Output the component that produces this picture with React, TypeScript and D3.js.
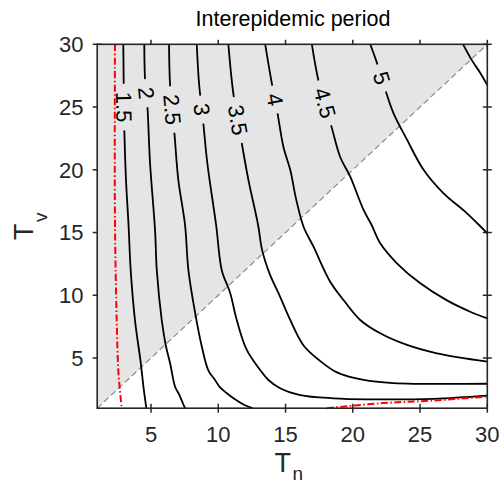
import React from "react";
import * as d3 from "d3";

type Pt = [number, number];

// Axis domains and ticks (T_n horizontal, T_v vertical)
const tnDomain: [number, number] = [1, 30];
const tvDomain: [number, number] = [1, 30];
const xTicks = [5, 10, 15, 20, 25, 30];
const yTicks = [5, 10, 15, 20, 25, 30];

// Contour lines of the interepidemic period, as (T_n, T_v) vertices from top to bottom
const level15: Pt[] = [[2.94, 30], [2.97, 26.9], [3.02, 23.0], [3.14, 19.2], [3.33, 15.6], [3.49, 12.0], [3.81, 8.0], [4.24, 4.6], [4.45, 2.6], [4.55, 1.8], [4.65, 1.0]];
const level20: Pt[] = [[4.5, 30], [4.56, 27.1], [4.73, 25.1], [4.93, 20.5], [5.3, 15.2], [5.43, 12.0], [5.8, 8.0], [6.1, 6.0], [6.42, 4.58], [6.79, 2.71], [7.11, 2.05], [7.48, 1.12], [7.55, 1.0]];
const level25: Pt[] = [[6.34, 30], [6.42, 26.7], [6.74, 22.9], [7.03, 19.2], [7.53, 15.6], [7.78, 12.0], [8.28, 8.6], [8.78, 5.9], [9.27, 4.0], [9.76, 3.25], [10.1, 2.7], [10.64, 2.19], [11.13, 1.79], [11.87, 1.3], [12.55, 1.0]];
const level30: Pt[] = [[8.4, 30], [8.57, 26.9], [8.89, 23.7], [9.19, 20.5], [9.84, 15.6], [10.26, 12.0], [10.88, 10.2], [11.38, 8.0], [12.12, 5.64], [13.11, 4.05], [13.73, 3.25], [14.6, 2.59], [16.09, 2.05], [18.57, 1.79], [21.05, 1.71], [26.0, 1.75], [30, 2.0]];
const level35: Pt[] = [[10.75, 30], [11.13, 26.0], [11.75, 22.1], [12.24, 19.2], [12.96, 15.6], [13.26, 13.6], [13.86, 11.6], [14.6, 9.88], [15.35, 8.03], [16.34, 6.0], [17.59, 4.75], [18.82, 3.85], [20.8, 3.25], [23.0, 3.0], [30, 2.95]];
const level40: Pt[] = [[13.49, 30], [13.98, 26.9], [14.36, 24.8], [14.85, 21.8], [15.35, 20.0], [15.8, 17.6], [16.34, 15.46], [17.08, 13.87], [18.32, 11.08], [19.31, 9.62], [20.55, 8.03], [22.04, 6.97], [24.03, 6.04], [26.26, 5.37], [30, 4.71]];
const level45: Pt[] = [[16.96, 30], [17.45, 27.1], [18.45, 23.3], [19.07, 21.0], [19.81, 19.45], [20.8, 16.8], [21.4, 15.6], [22.04, 14.14], [23.28, 12.55], [25.02, 10.95], [27.0, 9.59], [28.73, 8.69], [30, 8.16]];
const level50: Pt[] = [[21.3, 30], [21.8, 28.5], [22.41, 26.4], [23.03, 24.5], [24.03, 22.4], [25.26, 20.0], [26.75, 18.12], [28.49, 16.53], [30, 14.94]];
const level55: Pt[] = [[28.2, 30], [28.87, 28.7], [29.49, 27.7], [30, 26.75]];

const contourLevels = [1.5, 2, 2.5, 3, 3.5, 4, 4.5, 5, 5.5];
const contourLines = [level15, level20, level25, level30, level35, level40, level45, level50, level55];

// Inline contour labels: level and its position (T_n, T_v)
const labelLevels = [1.5, 2, 2.5, 3, 3.5, 4, 4.5, 5];
const labelTn = [2.98, 4.62, 6.55, 8.8, 11.38, 14.23, 17.82, 22.1];
const labelTv = [25.0, 26.1, 24.8, 24.8, 23.96, 25.6, 25.3, 27.3];

// Red dash-dot boundary curves
const boundaryLeft: Pt[] = [[2.32, 30], [2.32, 16], [2.45, 8.0], [2.57, 4.0], [2.7, 2.3], [2.82, 1.0]];
const boundaryBottom: Pt[] = [[18.08, 1.0], [22.04, 1.39], [25.76, 1.6], [30, 1.92]];

// Shaded region T_v > T_n
const shadedCorners: Pt[] = [[1, 1], [1, 30], [30, 30]];
const diagonal: Pt[] = [[1, 1], [30, 30]];

export default function App() {
  const W = 500;
  const H = 484;
  const left = 97.2, right = 487.3, top = 44.3, bottom = 408.2;
  const x = d3.scaleLinear().domain(tnDomain).range([left, right]);
  const y = d3.scaleLinear().domain(tvDomain).range([bottom, top]);

  const smooth = d3.line<Pt>().x((d) => x(d[0])).y((d) => y(d[1])).curve(d3.curveCatmullRom.alpha(0.5));
  const straight = d3.line<Pt>().x((d) => x(d[0])).y((d) => y(d[1]));

  const font = "'Liberation Sans', Arial, Helvetica, sans-serif";
  const axisColor = "#262626";
  const labelSize = 22;
  const tickLen = 4.5;

  const labels = labelLevels.map((lev, i) => {
    const pts = contourLines[contourLevels.indexOf(lev)].map((p) => [x(p[0]), y(p[1])]);
    const px = x(labelTn[i]);
    const py = y(labelTv[i]);
    let best = { d: Infinity, cx: px, cy: py, ang: 90 };
    for (let k = 0; k < pts.length - 1; k++) {
      const [ax, ay] = pts[k];
      const [bx, by] = pts[k + 1];
      const dx = bx - ax, dy = by - ay;
      const L2 = dx * dx + dy * dy;
      let t = ((px - ax) * dx + (py - ay) * dy) / L2;
      t = Math.max(0, Math.min(1, t));
      const cx = ax + t * dx, cy = ay + t * dy;
      const d = Math.hypot(px - cx, py - cy);
      if (d < best.d) {
        let ang = (Math.atan2(dy, dx) * 180) / Math.PI;
        if (ang > 90) ang -= 180;
        if (ang <= -90) ang += 180;
        best = { d, cx, cy, ang };
      }
    }
    const text = String(lev);
    const len = text.split("").reduce((s, c) => s + (c === "." ? 0.278 : 0.556), 0) * labelSize;
    return { ...best, text, gap: len + 16 };
  });

  return (
    <svg width={W} height={H} style={{ position: "absolute", left: 0, top: 0 }} fontFamily={font}>
      <rect width={W} height={H} fill="white" />
      <defs>
        <mask id="labelGaps" maskUnits="userSpaceOnUse" x={0} y={0} width={W} height={H}>
          <rect width={W} height={H} fill="white" />
          {labels.map((l, i) => (
            <rect
              key={i}
              x={-l.gap / 2}
              y={-6}
              width={l.gap}
              height={12}
              fill="black"
              transform={`translate(${l.cx},${l.cy}) rotate(${l.ang})`}
            />
          ))}
        </mask>
      </defs>

      {/* ticks on all four sides, pointing both ways */}
      <g stroke={axisColor} strokeWidth={1.5}>
        {xTicks.map((t) => (
          <g key={"xt" + t}>
            <line x1={x(t)} x2={x(t)} y1={bottom - tickLen} y2={bottom + tickLen} />
            <line x1={x(t)} x2={x(t)} y1={top - tickLen} y2={top + tickLen} />
          </g>
        ))}
        {yTicks.map((t) => (
          <g key={"yt" + t}>
            <line x1={left - tickLen} x2={left + tickLen} y1={y(t)} y2={y(t)} />
            <line x1={right - tickLen} x2={right + tickLen} y1={y(t)} y2={y(t)} />
          </g>
        ))}
      </g>

      {/* shaded triangle above the diagonal */}
      <path d={straight(shadedCorners) + "Z"} fill="#e5e5e5" />
      <path d={straight(diagonal) || ""} fill="none" stroke="#8c8c8c" strokeWidth={1.2} strokeDasharray="6,3.5" />

      {/* contour lines */}
      <g mask="url(#labelGaps)" fill="none" stroke="black" strokeWidth={1.8}>
        {contourLines.map((c, i) => (
          <path key={i} d={smooth(c) || ""} />
        ))}
      </g>

      {/* contour labels */}
      {labels.map((l, i) => (
        <text
          key={i}
          transform={`translate(${l.cx},${l.cy}) rotate(${l.ang})`}
          textAnchor="middle"
          dy="0.35em"
          fontSize={labelSize}
          fill="black"
        >
          {l.text}
        </text>
      ))}

      {/* red dash-dot boundaries */}
      <g fill="none" stroke="#ff0000" strokeWidth={2} strokeDasharray="7,2.5,1.5,2.5">
        <path d={smooth(boundaryLeft) || ""} />
        <path d={smooth(boundaryBottom) || ""} />
      </g>

      {/* axes box */}
      <rect x={left} y={top} width={right - left} height={bottom - top} fill="none" stroke={axisColor} strokeWidth={1.6} />

      {/* tick labels */}
      <g fontSize={22} fill={axisColor}>
        {xTicks.map((t) => (
          <text key={"xl" + t} x={x(t)} y={442} textAnchor="middle">
            {t}
          </text>
        ))}
        {yTicks.map((t) => (
          <text key={"yl" + t} x={83.5} y={y(t) + 7.8} textAnchor="end">
            {t}
          </text>
        ))}
      </g>

      {/* title */}
      <text x={293} y={26} textAnchor="middle" fontSize={21.5} fill="black">
        Interepidemic period
      </text>

      {/* axis labels */}
      <text x={274.5} y={471.5} fontSize={27} fill={axisColor}>
        T
        <tspan fontSize={19} dx={1.5} dy={8.5}>
          n
        </tspan>
      </text>
      <text transform="rotate(-90)" x={-240} y={33.3} fontSize={27} fill={axisColor}>
        T
        <tspan fontSize={19} dx={1.5} dy={14}>
          v
        </tspan>
      </text>
    </svg>
  );
}
